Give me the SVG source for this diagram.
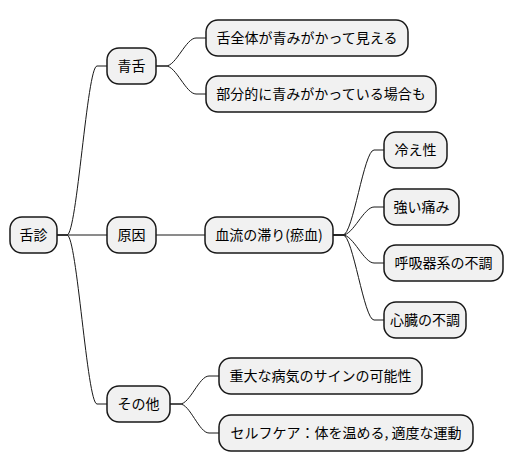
<svg xmlns="http://www.w3.org/2000/svg" width="513" height="471" viewBox="0 0 513 471">
<style>
.n rect{fill:#f1f1f1;stroke:#181818;stroke-width:1.5}
.n text{font-family:"Noto Sans CJK JP","Noto Sans",sans-serif;font-size:14px;fill:#000;text-anchor:middle}
.c path{fill:none;stroke:#181818;stroke-width:1}
</style>
<rect width="513" height="471" fill="#fff"/>
<g class="c" id="connectors">
<path d="M57,235 L67,235 C77,235 87,66 97,66 L107,66"/>
<path d="M57,235 L107,235"/>
<path d="M57,235 L67,235 C77,235 87,404 97,404 L107,404"/>
<path d="M156,66 L166,66 C176,66 186,38 196,38 L206,38"/>
<path d="M156,66 L166,66 C176,66 186,94 196,94 L206,94"/>
<path d="M156,235 L205,235"/>
<path d="M333,235 L343,235 C353,235 364,150 374,150 L384,150"/>
<path d="M333,235 L343,235 C353,235 364,207 374,207 L384,207"/>
<path d="M333,235 L343,235 C353,235 364,263 374,263 L384,263"/>
<path d="M333,235 L343,235 C353,235 364,320 374,320 L384,320"/>
<path d="M170,404 L180,404 C190,404 199,376 209,376 L219,376"/>
<path d="M170,404 L180,404 C190,404 199,433 209,433 L219,433"/>
</g>
<g class="n" id="n-root"><rect x="10" y="217" width="47" height="36" rx="12"/><text x="33.5" y="240">舌診</text></g>
<g class="n" id="n-aojita"><rect x="107" y="48" width="49" height="36" rx="12"/><text x="131.5" y="71">青舌</text></g>
<g class="n" id="n-zentai"><rect x="206" y="20" width="202" height="36" rx="12"/><text x="307" y="43">舌全体が青みがかって見える</text></g>
<g class="n" id="n-bubun"><rect x="206" y="76" width="230" height="36" rx="12"/><text x="321" y="99">部分的に青みがかっている場合も</text></g>
<g class="n" id="n-gen"><rect x="107" y="217" width="49" height="36" rx="12"/><text x="131.5" y="240">原因</text></g>
<g class="n" id="n-ketsu"><rect x="205" y="217" width="128" height="36" rx="12"/><text x="269" y="240">血流の滞り(瘀血)</text></g>
<g class="n" id="n-hie"><rect x="384" y="132" width="63" height="36" rx="12"/><text x="415.5" y="155">冷え性</text></g>
<g class="n" id="n-itami"><rect x="384" y="189" width="75" height="36" rx="12"/><text x="421.5" y="212">強い痛み</text></g>
<g class="n" id="n-kokyu"><rect x="384" y="245" width="119" height="36" rx="12"/><text x="443.5" y="268">呼吸器系の不調</text></g>
<g class="n" id="n-shinzo"><rect x="384" y="302" width="82" height="36" rx="12"/><text x="425" y="325">心臓の不調</text></g>
<g class="n" id="n-sonota"><rect x="107" y="386" width="63" height="36" rx="12"/><text x="138.5" y="409">その他</text></g>
<g class="n" id="n-judai"><rect x="219" y="358" width="203" height="36" rx="12"/><text x="320.5" y="381">重大な病気のサインの可能性</text></g>
<g class="n" id="n-self"><rect x="219" y="415" width="254" height="36" rx="12"/><text x="346" y="438">セルフケア：体を温める, 適度な運動</text></g>
</svg>
